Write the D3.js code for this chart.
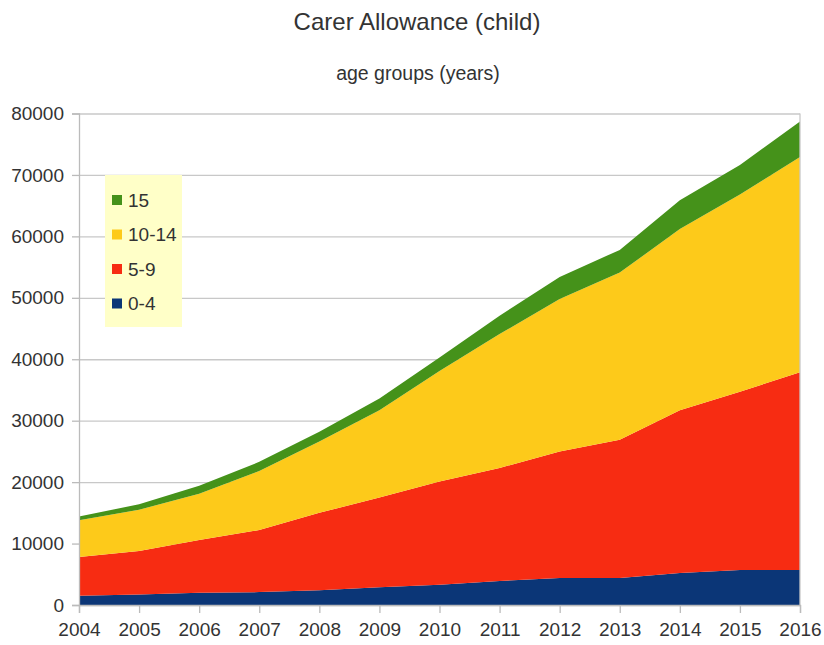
<!DOCTYPE html>
<html>
<head>
<meta charset="utf-8">
<script src="https://cdn.jsdelivr.net/npm/d3@7"></script>
<style>
  body { margin: 0; background: #fff; }
  text { font-family: "Liberation Sans", Arial, sans-serif; fill: #333; }
</style>
</head>
<body>
<svg width="824" height="645"></svg>
<script>
// values
var years = [2004, 2005, 2006, 2007, 2008, 2009, 2010, 2011, 2012, 2013, 2014, 2015, 2016];
var age0_4   = [1500, 1700, 2000, 2100, 2400, 2900, 3300, 3900, 4400, 4400, 5200, 5700, 5700];
var age5_9   = [6300, 7100, 8600, 10100, 12600, 14600, 16800, 18400, 20600, 22500, 26500, 29000, 32200];
var age10_14 = [6000, 6700, 7500, 9600, 11600, 14200, 18000, 21800, 24800, 27200, 29500, 32100, 35000];
var age15    = [600, 900, 1300, 1500, 1600, 1900, 2200, 3000, 3600, 3700, 4700, 4800, 5800];
var seriesNames = ["0-4", "5-9", "10-14", "15"];
var colors = ["#0b3677", "#f72c12", "#fdca1a", "#45921a"];
var yTicks = [0, 10000, 20000, 30000, 40000, 50000, 60000, 70000, 80000];

var svg = d3.select("svg"),
    margin = {top: 113.5, right: 24, bottom: 40, left: 79},
    width = +svg.attr("width") - margin.left - margin.right,
    height = +svg.attr("height") - margin.top - margin.bottom;

var rows = years.map(function(y, i) {
  return {year: y, "0-4": age0_4[i], "5-9": age5_9[i], "10-14": age10_14[i], "15": age15[i]};
});

var x = d3.scaleLinear().domain([2004, 2016]).range([0, width]);
var y = d3.scaleLinear().domain([0, 80000]).range([height, 0]);

svg.append("text")
  .attr("x", 417).attr("y", 30)
  .attr("text-anchor", "middle")
  .style("font-size", "24px")
  .text("Carer Allowance (child)");

svg.append("text")
  .attr("x", 418).attr("y", 80)
  .attr("text-anchor", "middle")
  .style("font-size", "19.5px")
  .text("age groups (years)");

var g = svg.append("g").attr("transform", "translate(" + margin.left + "," + margin.top + ")");

// gridlines
g.append("g")
  .call(d3.axisLeft(y).tickValues(yTicks).tickSize(-width).tickFormat(""))
  .call(function(a) {
    a.select(".domain").remove();
    a.selectAll("line").attr("stroke", "#c8c8c8").attr("stroke-width", 1.3);
  });

var stack = d3.stack().keys(seriesNames)(rows);

var area = d3.area()
  .x(function(d) { return x(d.data.year); })
  .y0(function(d) { return y(d[0]); })
  .y1(function(d) { return y(d[1]); });

g.selectAll(".layer")
  .data(stack)
  .enter().append("path")
  .attr("class", "layer")
  .attr("fill", function(d, i) { return colors[i]; })
  .attr("d", area);

// y axis
g.append("g")
  .call(d3.axisLeft(y).tickValues(yTicks).tickSize(7).tickPadding(8).tickFormat(d3.format("d")))
  .call(function(a) {
    a.select(".domain").attr("stroke", "#bbb").attr("stroke-width", 1.3);
    a.selectAll("line").attr("stroke", "#bbb").attr("stroke-width", 1.3);
    a.selectAll("text").style("font-size", "19px").attr("fill", "#333");
  });

// right border
g.append("line")
  .attr("x1", width).attr("x2", width)
  .attr("y1", 0).attr("y2", height)
  .attr("stroke", "#c8c8c8").attr("stroke-width", 1.3);

// x axis
g.append("g")
  .attr("transform", "translate(0," + height + ")")
  .call(d3.axisBottom(x).tickValues(years).tickSize(8).tickPadding(10).tickFormat(d3.format("d")))
  .call(function(a) {
    a.select(".domain").attr("stroke", "#bbb").attr("stroke-width", 1.3);
    a.selectAll("line").attr("stroke", "#bbb").attr("stroke-width", 1.3);
    a.selectAll("text").style("font-size", "19px").attr("fill", "#333");
  });

// legend
var legend = svg.append("g").attr("transform", "translate(105,175)");
legend.append("rect")
  .attr("width", 77).attr("height", 152)
  .attr("fill", "#ffffc8");

var legendOrder = seriesNames.slice().reverse();
legend.selectAll(".item")
  .data(legendOrder)
  .enter().append("g")
  .attr("class", "item")
  .attr("transform", function(d, i) { return "translate(7," + (25 + i * 34.5) + ")"; })
  .each(function(d) {
    var it = d3.select(this);
    it.append("rect")
      .attr("x", 0).attr("y", -5)
      .attr("width", 10).attr("height", 10)
      .attr("fill", colors[seriesNames.indexOf(d)]);
    it.append("text")
      .attr("x", 16).attr("y", 0)
      .attr("dy", "0.36em")
      .style("font-size", "19px")
      .text(d);
  });
</script>
</body>
</html>
